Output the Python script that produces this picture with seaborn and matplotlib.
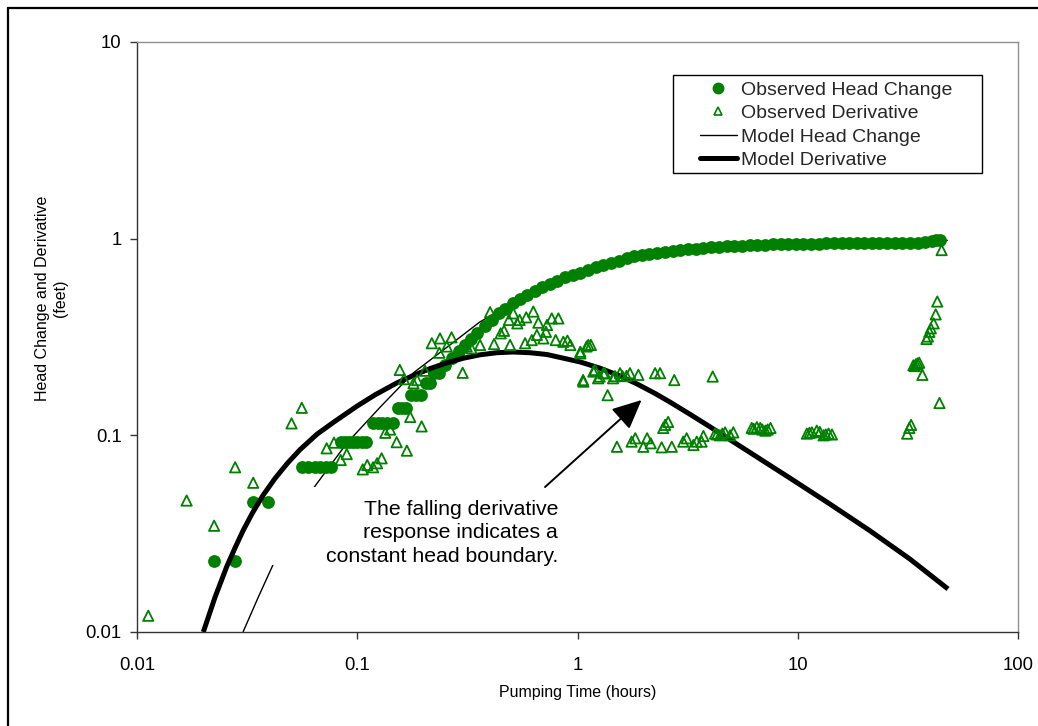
import matplotlib
matplotlib.use("Agg")
import matplotlib.pyplot as plt
from matplotlib.lines import Line2D
from matplotlib.patches import Rectangle
from matplotlib.ticker import FixedLocator, FixedFormatter, NullLocator
import seaborn as sns
import pandas as pd

# ---------------- data ----------------
head_time = [0.0224, 0.0279, 0.0337, 0.0394,
             0.056, 0.060, 0.064, 0.068, 0.072, 0.076,
             0.084, 0.088, 0.092, 0.096, 0.100, 0.105, 0.110,
             0.118, 0.124, 0.130, 0.137, 0.145,
             0.153, 0.159, 0.166,
             0.175, 0.185, 0.195,
             0.205, 0.215, 0.222, 0.235,
             0.25, 0.27, 0.29, 0.31, 0.33, 0.35, 0.38, 0.41, 0.44, 0.47,
             0.51, 0.55, 0.59, 0.64, 0.69, 0.75, 0.81, 0.88, 0.95, 1.03,
             1.12, 1.21, 1.31, 1.42, 1.54, 1.67, 1.81, 1.96, 2.12, 2.30,
             2.49, 2.70, 2.93, 3.17, 3.44, 3.73, 4.04, 4.38, 4.75, 5.15,
             5.58, 6.05, 6.56, 7.11, 7.71, 8.36, 9.06, 9.82, 10.6, 11.5,
             12.5, 13.5, 14.6, 15.8, 17.1, 18.5, 20.0, 21.7, 23.5, 25.4,
             27.5, 29.8, 32.3, 35.0, 37.9, 40.5, 42.5, 44.3]
head_value = [0.023, 0.023, 0.046, 0.046,
              0.069, 0.069, 0.069, 0.069, 0.069, 0.069,
              0.092, 0.092, 0.092, 0.092, 0.092, 0.092, 0.092,
              0.115, 0.115, 0.115, 0.115, 0.115,
              0.138, 0.138, 0.138,
              0.161, 0.161, 0.161,
              0.184, 0.184, 0.207, 0.207,
              0.228, 0.247, 0.268, 0.288, 0.309, 0.330, 0.360, 0.388, 0.417, 0.439,
              0.471, 0.493, 0.520, 0.545, 0.568, 0.591, 0.612, 0.635, 0.650, 0.669,
              0.693, 0.714, 0.734, 0.756, 0.774, 0.793, 0.812, 0.826, 0.837, 0.848,
              0.858, 0.868, 0.875, 0.884, 0.891, 0.896, 0.904, 0.909, 0.914, 0.920,
              0.923, 0.926, 0.929, 0.931, 0.934, 0.936, 0.938, 0.939, 0.940, 0.942,
              0.944, 0.946, 0.948, 0.948, 0.948, 0.948, 0.950, 0.950, 0.952, 0.953,
              0.953, 0.954, 0.955, 0.956, 0.964, 0.975, 0.986, 0.985]

deriv_time = [0.01125, 0.0168, 0.0224, 0.0279, 0.0337, 0.0503, 0.056, 0.0726,
              0.0784, 0.0841, 0.0896, 0.1059, 0.111, 0.118, 0.123, 0.129,
              0.134, 0.141, 0.151, 0.168, 0.174, 0.196, 0.156, 0.163,
              0.180, 0.187, 0.203, 0.218, 0.2375, 0.236, 0.255, 0.268,
              0.301, 0.314, 0.330, 0.361, 0.401, 0.418, 0.448, 0.464,
              0.494, 0.511, 0.488, 0.533, 0.546, 0.578, 0.585, 0.630,
              0.620, 0.664, 0.654, 0.700, 0.719, 0.727, 0.764, 0.796,
              0.819, 0.862, 0.900, 0.928, 1.03, 1.06, 1.15, 1.10,
              1.20, 1.26, 1.37, 1.33, 1.45, 1.51, 1.03, 1.12,
              1.063, 1.18, 1.24, 1.31, 1.48, 1.56, 1.60, 1.67,
              1.73, 1.89, 2.25, 2.37, 2.75, 4.11, 1.76, 1.83,
              1.99, 2.07, 2.15, 2.41, 2.68, 2.50, 2.58, 2.45,
              3.02, 3.13, 3.36, 3.48, 3.66, 3.73, 4.21, 4.30,
              4.43, 4.55, 4.68, 4.93, 5.10, 6.18, 6.30, 6.52,
              6.76, 6.90, 7.13, 7.30, 7.52, 11.0, 11.3, 11.6,
              12.2, 12.6, 13.1, 13.4, 13.8, 14.3, 45.0, 43.0,
              42.3, 41.4, 40.2, 39.6, 39.0, 38.4, 35.6, 35.0,
              34.4, 34.0, 33.5, 36.8, 44.0, 32.7, 32.1, 31.4]
deriv_value = [0.0121, 0.0466, 0.0347, 0.0688, 0.0574, 0.115, 0.138, 0.0859,
               0.0918, 0.0749, 0.0803, 0.0671, 0.0706, 0.0688, 0.0721, 0.0764,
               0.103, 0.107, 0.0923, 0.0836, 0.124, 0.111, 0.215, 0.193,
               0.184, 0.191, 0.213, 0.294, 0.311, 0.263, 0.283, 0.315,
               0.208, 0.283, 0.277, 0.288, 0.423, 0.291, 0.330, 0.340,
               0.288, 0.417, 0.386, 0.371, 0.386, 0.294, 0.398, 0.426,
               0.305, 0.374, 0.324, 0.311, 0.336, 0.364, 0.393, 0.305,
               0.393, 0.299, 0.303, 0.288, 0.266, 0.191, 0.288, 0.283,
               0.215, 0.199, 0.160, 0.207, 0.195, 0.0875, 0.261, 0.288,
               0.1875, 0.211, 0.195, 0.2067, 0.200, 0.207, 0.200, 0.2005,
               0.207, 0.203, 0.207, 0.207, 0.191, 0.199, 0.0929, 0.0966,
               0.0875, 0.0966, 0.0911, 0.0869, 0.0875, 0.113, 0.117, 0.109,
               0.0929, 0.0966, 0.0893, 0.0929, 0.0929, 0.0992, 0.102, 0.101,
               0.100, 0.102, 0.1035, 0.100, 0.1035, 0.109, 0.108, 0.110,
               0.109, 0.107, 0.1056, 0.107, 0.109, 0.102, 0.103, 0.1035,
               0.1056, 0.104, 0.100, 0.101, 0.102, 0.101, 0.875, 0.479,
               0.412, 0.371, 0.350, 0.336, 0.318, 0.309, 0.234, 0.232,
               0.230, 0.225, 0.227, 0.203, 0.146, 0.113, 0.109, 0.102]

model_head_time = [0.0303, 0.0355, 0.0414, 0.0520, 0.0643, 0.0898, 0.127, 0.179,
                   0.256, 0.360, 0.52, 0.75, 1.17, 1.8, 3.6, 10.2, 25.0, 48.0]
model_head_value = [0.010, 0.0150, 0.0219, 0.0370, 0.0552, 0.0914, 0.139, 0.207,
                    0.281, 0.377, 0.475, 0.59, 0.68, 0.81, 0.875, 0.95, 0.965, 0.98]

model_deriv_time = [0.0200, 0.0226, 0.0256, 0.0279, 0.0303, 0.0333, 0.0373, 0.0423,
                    0.0480, 0.0550, 0.0656, 0.0793, 0.100, 0.1204, 0.151, 0.1791,
                    0.214, 0.2556, 0.302, 0.3605, 0.431, 0.510, 0.608, 0.727,
                    0.859, 1.03, 1.265, 1.56, 1.862, 2.248, 2.63, 3.243,
                    4.00, 4.925, 6.07, 7.48, 9.22, 14.01, 21.29, 32.33,
                    48.1]
model_deriv_value = [0.0100, 0.01501, 0.02161, 0.02686, 0.03275, 0.0400, 0.04944, 0.06032,
                     0.07176, 0.08461, 0.1013, 0.1180, 0.1410, 0.1606, 0.1845, 0.2012,
                     0.2184, 0.2338, 0.2464, 0.2567, 0.2631, 0.2653, 0.2631, 0.2576,
                     0.247, 0.2360, 0.2195, 0.2005, 0.1826, 0.1634, 0.1476, 0.1279,
                     0.1104, 0.0950, 0.0818, 0.0704, 0.0606, 0.0447, 0.0327, 0.02348,
                     0.01655]

tick_values = [0.01, 0.1, 1, 10, 100]
x_tick_labels = ["0.01", "0.1", "1", "10", "100"]
y_tick_values = [0.01, 0.1, 1, 10]
y_tick_labels = ["0.01", "0.1", "1", "10"]

series_labels = ["Observed Head Change", "Observed Derivative",
                 "Model Head Change", "Model Derivative"]
annotation_text = "The falling derivative\nresponse indicates a\nconstant head boundary."
x_label = "Pumping Time (hours)"
y_label = "Head Change and Derivative\n(feet)"

# ---------------- style ----------------
sns.set_theme(style="white")
plt.rcParams["font.family"] = ["Liberation Sans", "DejaVu Sans"]
GREEN = "#008000"

W, H = 1038, 726
fig = plt.figure(figsize=(W / 100, H / 100), dpi=100)
fig.patch.set_facecolor("white")
ax = fig.add_axes([137 / W, 1 - 632 / H, 881 / W, 590 / H])
ax.set_xscale("log")
ax.set_yscale("log")
ax.set_xlim(0.01, 100)
ax.set_ylim(0.01, 10)

heads = pd.DataFrame({"t": head_time, "v": head_value})
derivs = pd.DataFrame({"t": deriv_time, "v": deriv_value})
mhead = pd.DataFrame({"t": model_head_time, "v": model_head_value})
mderiv = pd.DataFrame({"t": model_deriv_time, "v": model_deriv_value})

sns.lineplot(data=mhead, x="t", y="v", ax=ax, sort=False, estimator=None,
             color="black", linewidth=1.0, zorder=2)
sns.scatterplot(data=heads, x="t", y="v", ax=ax, marker="o", s=85,
                color=GREEN, edgecolor=GREEN, linewidth=0, zorder=3)
sns.lineplot(data=mderiv, x="t", y="v", ax=ax, sort=False,
             estimator=None, color="black", linewidth=3.6, zorder=4)
sns.scatterplot(data=derivs, x="t", y="v", ax=ax, marker="^", s=55,
                color=GREEN, facecolor="none", edgecolor=GREEN,
                linewidth=1.3, zorder=5)
for ln in ax.get_lines():
    ln.set_solid_joinstyle("round")
    ln.set_solid_capstyle("butt")

# white box behind the annotation text (hides the thin model line)
ax.add_patch(Rectangle((0.0402, 0.0219), 0.877 - 0.0402, 0.0546 - 0.0219,
                       facecolor="white", edgecolor="none", zorder=2.5))
ax.text(0.816, 0.0319, annotation_text, ha="right", va="center",
        multialignment="right", fontsize=15.3, linespacing=1.3,
        color="black", zorder=6)
ax.annotate("", xy=(1.953, 0.1512), xytext=(0.712, 0.0546),
            arrowprops=dict(arrowstyle="-|>,head_length=0.9,head_width=0.42",
                            mutation_scale=20, lw=1.4, color="black",
                            shrinkA=0, shrinkB=0), zorder=6)

# axes styling
ax.xaxis.set_major_locator(FixedLocator(tick_values))
ax.xaxis.set_major_formatter(FixedFormatter(x_tick_labels))
ax.yaxis.set_major_locator(FixedLocator(y_tick_values))
ax.yaxis.set_major_formatter(FixedFormatter(y_tick_labels))
ax.xaxis.set_minor_locator(NullLocator())
ax.yaxis.set_minor_locator(NullLocator())
ax.tick_params(axis="both", which="major", direction="out", length=5, width=1,
               color="#333333", labelsize=13.3, labelcolor="black")
ax.tick_params(axis="x", pad=13)
ax.tick_params(axis="y", pad=6)
ax.tick_params(bottom=True, left=True, top=False, right=False)
for side in ["left", "bottom"]:
    ax.spines[side].set_color("#333333")
    ax.spines[side].set_linewidth(1.0)
for side in ["top", "right"]:
    ax.spines[side].set_color("#909090")
    ax.spines[side].set_linewidth(1.0)
ax.grid(False)

ax.set_xlabel(x_label, fontsize=11.5, color="black")
ax.xaxis.set_label_coords(0.5, (632 - 692) / 590)
ax.xaxis.label.set_va("center")
ax.set_ylabel(y_label, fontsize=11.5, color="black", linespacing=1.3)
ax.yaxis.set_label_coords((51.5 - 137) / 881, (632 - 298) / 590)
ax.yaxis.label.set_va("center")
ax.yaxis.label.set_ha("center")
ax.yaxis.label.set_rotation_mode("default")

# legend
handles = [
    Line2D([], [], linestyle="none", marker="o", markersize=7.5,
           markerfacecolor=GREEN, markeredgecolor=GREEN),
    Line2D([], [], linestyle="none", marker="^", markersize=5.5,
           markerfacecolor="none", markeredgecolor=GREEN, markeredgewidth=1.2),
    Line2D([], [], color="black", linewidth=1.0),
    Line2D([], [], color="black", linewidth=3.6),
]
leg = fig.legend(handles, series_labels, loc="upper left",
                 bbox_to_anchor=(700 / W, 1 - 81 / H), frameon=False,
                 fontsize=14.0, handlelength=1.9, handletextpad=0.22,
                 labelspacing=0.30, borderpad=0, borderaxespad=0)
fig.add_artist(Rectangle((673 / W, 1 - 173 / H), 309 / W, 98 / H,
                         transform=fig.transFigure, fill=False,
                         edgecolor="black", linewidth=1.0))
# outer chart border
fig.add_artist(Rectangle((8 / W, -0.05), 1.2, 1.05 - 8 / H,
                         transform=fig.transFigure, fill=False,
                         edgecolor="black", linewidth=1.6, clip_on=False))

fig.savefig("out.png", dpi=100)
